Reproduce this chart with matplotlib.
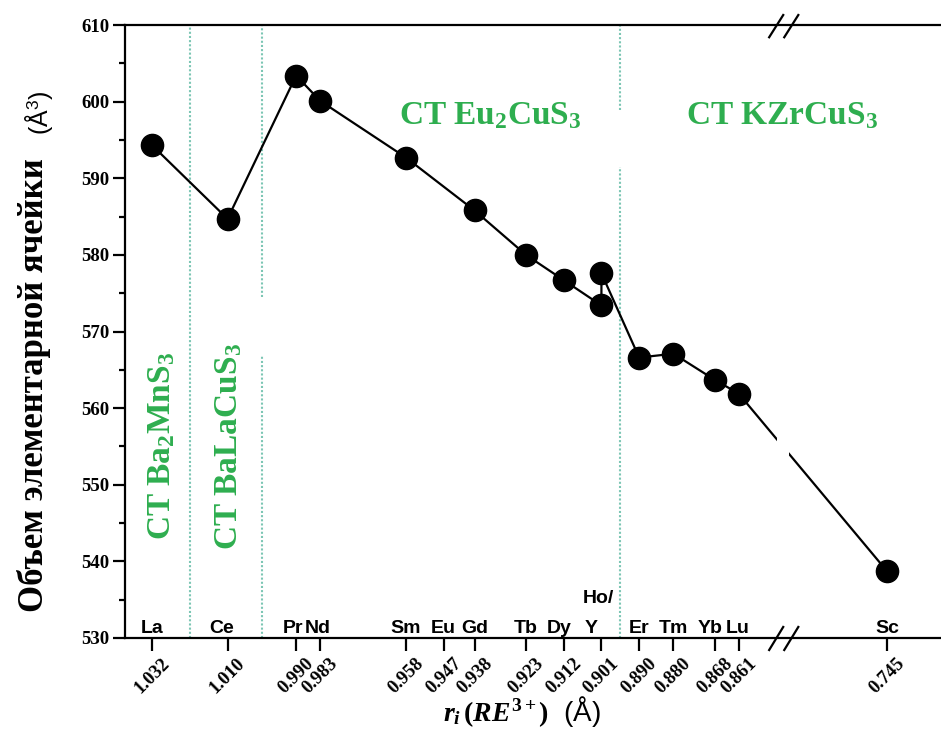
import numpy as np
import matplotlib
matplotlib.use('Agg')
import matplotlib.pyplot as plt
from matplotlib import transforms as mtrans
from matplotlib.ticker import MultipleLocator, FixedLocator, FixedFormatter

plt.rcParams['mathtext.fontset'] = 'custom'
plt.rcParams['mathtext.rm'] = 'Liberation Serif:bold'
plt.rcParams['mathtext.bf'] = 'Liberation Serif:bold'
plt.rcParams['mathtext.it'] = 'Liberation Serif:italic:bold'
plt.rcParams['mathtext.sf'] = 'Liberation Sans'
plt.rcParams['mathtext.default'] = 'bf'

# ---------------- data ----------------
tick_radii = [1.032, 1.010, 0.990, 0.983, 0.958, 0.947, 0.938, 0.923,
              0.912, 0.901, 0.890, 0.880, 0.868, 0.861, 0.745]
tick_elements = ['La', 'Ce', 'Pr', 'Nd', 'Sm', 'Eu', 'Gd', 'Tb',
                 'Dy', 'Y', 'Er', 'Tm', 'Yb', 'Lu', 'Sc']
element_dx_px = [0, -6, -3, -2, 0, 0, 0, 0, -5, -10, 0, 0, -5, -1, 0]

point_radii = [1.032, 1.010, 0.990, 0.983, 0.958, 0.938, 0.923, 0.912,
               0.901, 0.901, 0.890, 0.880, 0.868, 0.861, 0.745]
point_volumes = [594.3, 584.7, 603.4, 600.1, 592.7, 585.8, 580.0, 576.7,
                 573.4, 577.6, 566.6, 567.1, 563.7, 561.9, 538.7]

# structure-type boundaries (dotted lines) and their visible segments
boundary_r = [1.021, 1.000, 1.000, 0.8955, 0.8955]
boundary_ymin = [530, 530, 574.5, 530, 598.9]
boundary_ymax = [610, 566.9, 610, 591.5, 610]

# structure-type labels
st_labels = ['CT Ba$_2$MnS$_3$', 'CT BaLaCuS$_3$', 'CT Eu$_2$CuS$_3$', 'CT KZrCuS$_3$']
st_r = [1.0268, 1.0072, 0.960, 0.8764]
st_v = [542.8, 541.5, 597.0, 597.0]
st_rot = [90, 90, 0, 0]

# axis break
G_HI, G_LO = 0.848, 0.7753
D = G_HI - G_LO


def fwd(r):
    r = np.asarray(r, dtype=float)
    return np.where(r >= G_HI, r, np.where(r <= G_LO, r + D, G_HI))


def inv(t):
    t = np.asarray(t, dtype=float)
    return np.where(t >= G_HI, t, t - D)


green = '#2eae4f'
dotc = '#7cc6b4'

fig = plt.figure(figsize=(9.41, 7.40), dpi=100)
ax = fig.add_axes([125 / 941, 1 - 638 / 740, 1 - 125 / 941, 613 / 740])
ax.set_xscale('function', functions=(fwd, inv))
ax.set_xlim(1.0399, 0.7293)
ax.set_ylim(530, 610)

# dotted boundaries
ax.vlines(boundary_r, boundary_ymin, boundary_ymax, colors=dotc,
          linestyles=(0, (1, 1)), linewidth=1.5, zorder=1)

# data
ax.plot(point_radii, point_volumes, color='black', lw=1.6, marker='o',
        ms=16, mfc='black', mec='black', zorder=3)

# gap in the line at the axis break
ax.axvspan(G_LO - 0.0018, G_HI + 0.0018, ymin=0.2, ymax=0.6,
           color='white', zorder=3.1, lw=0)

# spines
for s in ['left', 'bottom', 'top']:
    ax.spines[s].set_linewidth(1.6)
ax.spines['right'].set_visible(False)

# break marks
bt = mtrans.blended_transform_factory(ax.transData, ax.transAxes)
for (y0, y1) in [(-0.0196, 0.018), (0.980, 1.0163)]:
    ax.plot([G_HI + 0.0041, G_HI], [y0, y1], color='black', lw=1.6,
            transform=bt, clip_on=False, zorder=5)
    ax.plot([G_LO - 0.0003, G_LO - 0.0044], [y0, y1], color='black', lw=1.6,
            transform=bt, clip_on=False, zorder=5)

# ticks
ax.xaxis.set_major_locator(FixedLocator(tick_radii))
ax.xaxis.set_major_formatter(FixedFormatter(['%.3f' % r for r in tick_radii]))
ax.xaxis.set_minor_locator(FixedLocator([]))
ax.yaxis.set_major_locator(MultipleLocator(10))
ax.yaxis.set_minor_locator(MultipleLocator(5))
ax.tick_params(axis='x', which='major', direction='out', length=9, width=1.6,
               pad=3, labelsize=13.5, labelrotation=45)
ax.tick_params(axis='y', which='major', direction='out', length=8.5, width=1.6,
               pad=3, labelsize=13.5)
ax.tick_params(axis='y', which='minor', direction='out', length=4.5, width=1.6)
for lab in ax.get_xticklabels() + ax.get_yticklabels():
    lab.set_fontfamily('Liberation Serif')
    lab.set_fontweight('bold')

# element labels above the axis
for r, el, dx in zip(tick_radii, tick_elements, element_dx_px):
    ax.annotate(el, xy=(r, 530), xycoords='data', xytext=(dx * 0.72, 3.6),
                textcoords='offset points', ha='center', va='baseline',
                fontsize=14, fontfamily='Liberation Sans', fontweight='bold')
ax.annotate('Ho/', xy=(0.901, 530), xycoords='data', xytext=(-3 * 0.72, 25),
            textcoords='offset points', ha='center', va='baseline',
            fontsize=14, fontfamily='Liberation Sans', fontweight='bold')

# structure-type labels
for lab, r, v, rot in zip(st_labels, st_r, st_v, st_rot):
    ax.text(r, v, lab, rotation=rot, rotation_mode='anchor', ha='left',
            va='baseline', color=green, fontsize=24, zorder=6,
            fontfamily='Liberation Serif', fontweight='bold')

# axis titles
fig.text(43 / 941, 1 - 612 / 740, 'Объем элементарной ячейки', rotation=90,
         rotation_mode='anchor', ha='left', va='baseline', fontsize=25,
         fontfamily='Liberation Serif', fontweight='bold')
fig.text(48 / 941, 1 - 135 / 740, r'($\mathsf{\AA}^{\mathsf{3}}$)', rotation=90,
         rotation_mode='anchor', ha='left', va='baseline', fontsize=18,
         fontfamily='Liberation Sans')
fig.text(522 / 941, 1 - 721 / 740,
         r'$\mathit{r_i}\,\mathbf{(}\mathit{RE}^{\mathbf{3+}}\mathbf{)}$  (Å)',
         ha='center', va='baseline', fontsize=20, fontfamily='Liberation Sans')

fig.savefig('out.png', dpi=100)
